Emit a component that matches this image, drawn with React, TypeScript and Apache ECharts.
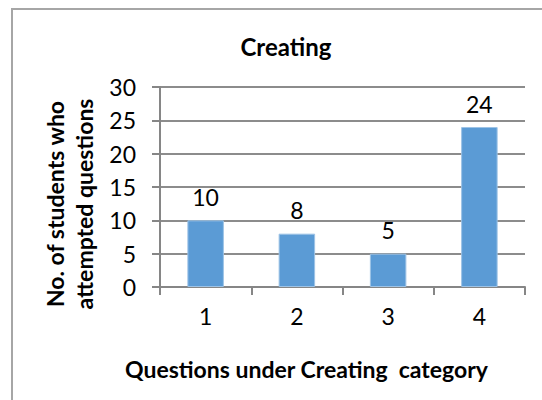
import React, { useEffect, useRef } from "react";
import * as echarts from "echarts";

const categories = ["1", "2", "3", "4"];
const values = [10, 8, 5, 24];
const chartTitle = "Creating";
const xTitle = "Questions under Creating  category";
const yTitle = "No. of students who\nattempted questions";

export default function App() {
  const ref = useRef<HTMLDivElement>(null);
  useEffect(() => {
    document.body.style.margin = "0";
    const chart = echarts.init(ref.current!, undefined, { renderer: "svg" });
    const font = "Lato, 'Liberation Sans', sans-serif";
    chart.setOption({
      animation: false,
      backgroundColor: "#ffffff",
      textStyle: { fontFamily: font },
      title: {
        text: chartTitle,
        left: 281,
        top: 29,
        textAlign: "center",
        textStyle: { fontFamily: font, fontSize: 24, fontWeight: "bold", color: "#000" },
      },
      graphic: [
        {
          type: "rect",
          shape: { x: 12, y: 9, width: 700, height: 600 },
          style: { fill: "none", stroke: "#a6a6a6", lineWidth: 2 },
          silent: true,
        },
      ],
      grid: { left: 160, top: 87, right: 17, bottom: 113, containLabel: false },
      xAxis: {
        type: "category",
        data: categories,
        name: xTitle,
        nameLocation: "middle",
        nameGap: 70,
        nameTextStyle: {
          fontFamily: font,
          fontSize: 23,
          fontWeight: "bold",
          color: "#000",
          padding: [0, 72, 0, 0],
        },
        axisLine: { show: true, lineStyle: { color: "#868686", width: 2 } },
        axisTick: { show: true, length: 8, alignWithLabel: false, lineStyle: { color: "#868686", width: 2 } },
        axisLabel: { fontSize: 23, color: "#000", margin: 17, fontFamily: font },
        splitLine: { show: false },
      },
      yAxis: {
        type: "value",
        min: 0,
        max: 30,
        interval: 5,
        name: yTitle,
        nameLocation: "middle",
        nameGap: 51,
        nameRotate: 90,
        nameTextStyle: {
          fontFamily: font,
          fontSize: 23,
          fontWeight: "bold",
          color: "#000",
          lineHeight: 29,
          padding: [0, 34, 0, 0],
        },
        axisLine: { show: true, lineStyle: { color: "#868686", width: 2 } },
        axisTick: { show: true, length: 8, lineStyle: { color: "#868686", width: 2 } },
        axisLabel: { fontSize: 23, color: "#000", margin: 24, fontFamily: font },
        splitLine: { show: true, lineStyle: { color: "#8c8c8c", width: 2 } },
      },
      series: [
        {
          type: "bar",
          data: values,
          barWidth: "40%",
          itemStyle: { color: "#5b9bd5", borderColor: "#9dc3e6", borderWidth: 1 },
          label: {
            show: true,
            position: "top",
            distance: 12,
            fontSize: 23,
            color: "#000",
            fontFamily: font,
          },
        },
      ],
    });
    return () => chart.dispose();
  }, []);
  return <div ref={ref} style={{ width: 542, height: 400 }} />;
}
